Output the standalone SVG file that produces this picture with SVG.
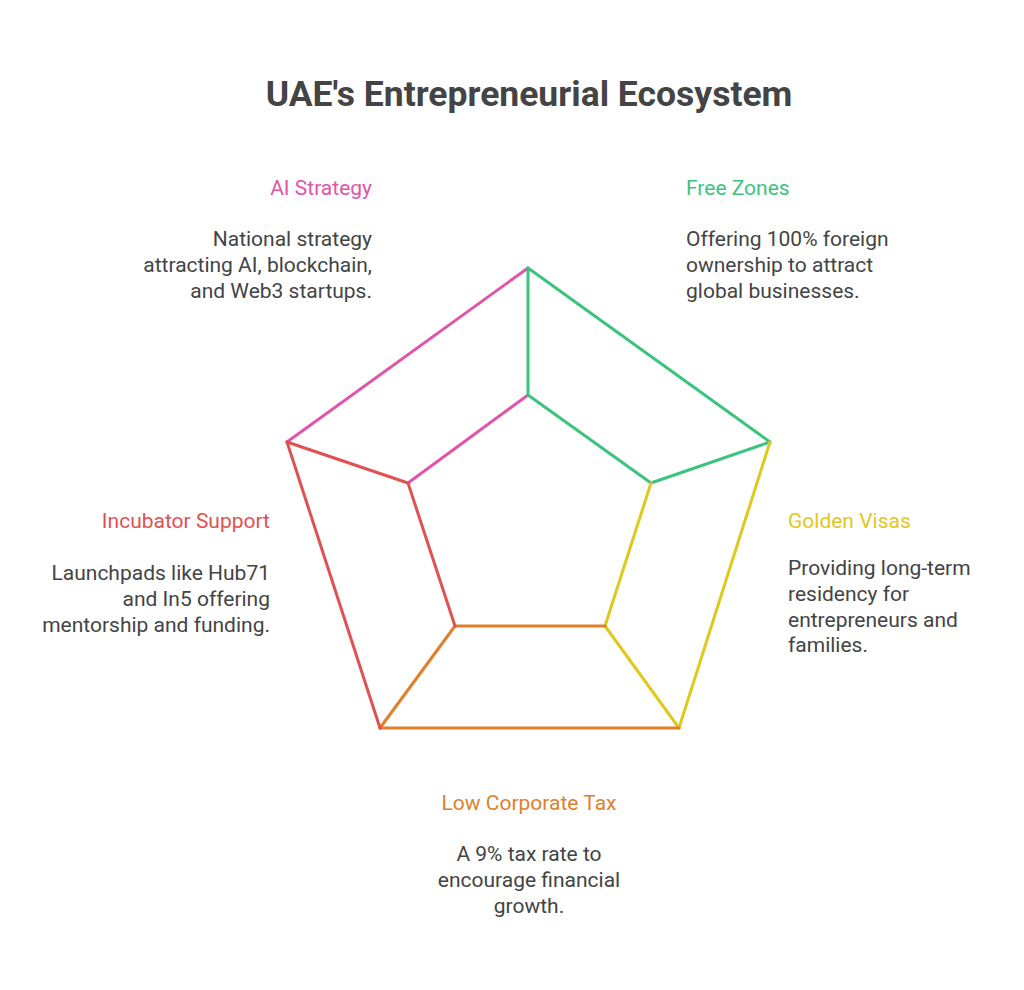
<svg xmlns="http://www.w3.org/2000/svg" width="1024" height="990" viewBox="0 0 1024 990">
<style>
text{font-family:Roboto,"Liberation Sans",sans-serif;}
.t{font-size:35.5px;font-weight:bold;fill:#444;}
.h{font-size:21px;}
.b{font-size:21px;fill:#444;}
line{stroke-width:3;stroke-linecap:round;}
.pk{stroke:#e055a8;fill:#e055a8}.gr{stroke:#3cc47f;fill:#3cc47f}.ye{stroke:#e0c81e;fill:#e0c81e}.or{stroke:#e0802b;fill:#e0802b}.rd{stroke:#e05252;fill:#e05252}
</style>
<rect width="1024" height="990" fill="#fff"/>
<text class="t" x="529" y="106" text-anchor="middle">UAE's Entrepreneurial Ecosystem</text>
<g id="connectors">
<line class="pk" x1="287" y1="442" x2="528" y2="268"/><line class="pk" x1="408" y1="483" x2="528" y2="395"/>
<line class="gr" x1="528" y1="268" x2="770" y2="442"/><line class="gr" x1="528" y1="395" x2="651" y2="483"/>
<line class="gr" x1="528" y1="268" x2="528" y2="395"/><line class="gr" x1="770" y1="442" x2="651" y2="483"/>
<line class="ye" x1="770" y1="442" x2="679" y2="728"/><line class="ye" x1="651" y1="483" x2="605" y2="626"/>
<line class="ye" x1="679" y1="728" x2="605" y2="626"/>
<line class="or" x1="679" y1="728" x2="380" y2="728"/><line class="or" x1="605" y1="626" x2="455" y2="626"/>
<line class="or" x1="380" y1="728" x2="455" y2="626"/>
<line class="rd" x1="380" y1="728" x2="287" y2="442"/><line class="rd" x1="455" y1="626" x2="408" y2="483"/>
<line class="rd" x1="287" y1="442" x2="408" y2="483"/>
</g>
<g id="ai" text-anchor="end">
<text class="h pk" style="stroke:none" x="372" y="195">AI Strategy</text>
<text class="b" x="372" y="246">National strategy</text>
<text class="b" x="372" y="272">attracting AI, blockchain,</text>
<text class="b" x="372" y="298">and Web3 startups.</text>
</g>
<g id="free">
<text class="h gr" style="stroke:none" x="686" y="195">Free Zones</text>
<text class="b" x="686" y="246">Offering 100% foreign</text>
<text class="b" x="686" y="272">ownership to attract</text>
<text class="b" x="686" y="298">global businesses.</text>
</g>
<g id="golden">
<text class="h ye" style="stroke:none" x="788" y="528">Golden Visas</text>
<text class="b" x="788" y="575">Providing long-term</text>
<text class="b" x="788" y="601">residency for</text>
<text class="b" x="788" y="627">entrepreneurs and</text>
<text class="b" x="788" y="652">families.</text>
</g>
<g id="incubator" text-anchor="end">
<text class="h rd" style="stroke:none" x="270" y="528">Incubator Support</text>
<text class="b" x="270" y="580">Launchpads like Hub71</text>
<text class="b" x="270" y="606">and In5 offering</text>
<text class="b" x="270" y="632">mentorship and funding.</text>
</g>
<g id="tax" text-anchor="middle">
<text class="h or" style="stroke:none" x="529" y="810">Low Corporate Tax</text>
<text class="b" x="529" y="861">A 9% tax rate to</text>
<text class="b" x="529" y="887">encourage financial</text>
<text class="b" x="529" y="913">growth.</text>
</g>
</svg>
